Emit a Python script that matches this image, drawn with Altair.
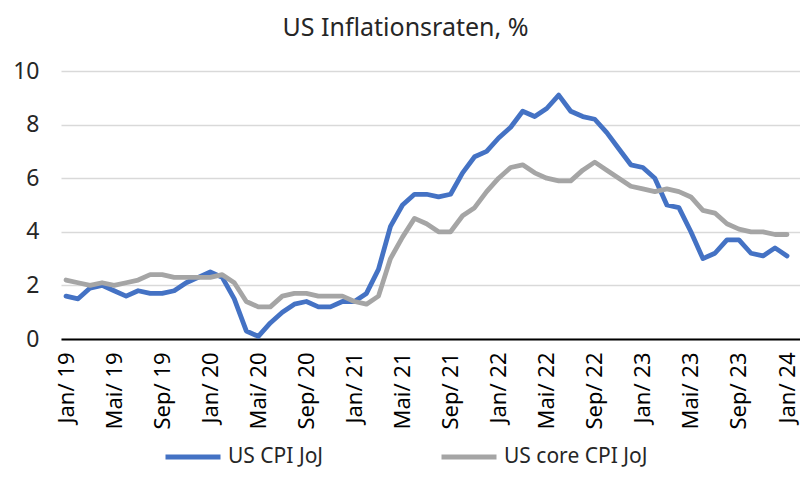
import altair as alt
import pandas as pd

# ---- data -------------------------------------------------------------
month_names = ["Jan", "Feb", "Mär", "Apr", "Mai", "Jun",
               "Jul", "Aug", "Sep", "Okt", "Nov", "Dez"]
years = ["19", "20", "21", "22", "23", "24"]
months = [f"{m}/ {y}" for y in years for m in month_names][:61]

series_names = ["US CPI JoJ", "US core CPI JoJ"]
series_colors = ["#4472C4", "#A5A5A5"]

cpi = [1.6, 1.5, 1.9, 2.0, 1.8, 1.6, 1.8, 1.7, 1.7, 1.8, 2.1, 2.3,
       2.5, 2.3, 1.5, 0.3, 0.1, 0.6, 1.0, 1.3, 1.4, 1.2, 1.2, 1.4,
       1.4, 1.7, 2.6, 4.2, 5.0, 5.4, 5.4, 5.3, 5.4, 6.2, 6.8, 7.0,
       7.5, 7.9, 8.5, 8.3, 8.6, 9.1, 8.5, 8.3, 8.2, 7.7, 7.1, 6.5,
       6.4, 6.0, 5.0, 4.9, 4.0, 3.0, 3.2, 3.7, 3.7, 3.2, 3.1, 3.4,
       3.1]
core = [2.2, 2.1, 2.0, 2.1, 2.0, 2.1, 2.2, 2.4, 2.4, 2.3, 2.3, 2.3,
        2.3, 2.4, 2.1, 1.4, 1.2, 1.2, 1.6, 1.7, 1.7, 1.6, 1.6, 1.6,
        1.4, 1.3, 1.6, 3.0, 3.8, 4.5, 4.3, 4.0, 4.0, 4.6, 4.9, 5.5,
        6.0, 6.4, 6.5, 6.2, 6.0, 5.9, 5.9, 6.3, 6.6, 6.3, 6.0, 5.7,
        5.6, 5.5, 5.6, 5.5, 5.3, 4.8, 4.7, 4.3, 4.1, 4.0, 4.0, 3.9,
        3.9]

x_tick_labels = months[::4]
y_ticks = [0, 2, 4, 6, 8, 10]
title_text = "US Inflationsraten, %"

df = pd.DataFrame({
    "Monat": months * 2,
    "Wert": cpi + core,
    "Serie": [series_names[0]] * len(cpi) + [series_names[1]] * len(core),
    "Reihe": [0] * len(cpi) + [1] * len(core),
})

FONT = "Noto Sans"

chart = (
    alt.Chart(df)
    .mark_line(strokeWidth=4.8, strokeCap="round", strokeJoin="round")
    .encode(
        x=alt.X(
            "Monat:O",
            sort=months,
            scale=alt.Scale(type="point", padding=0.75, align=0.28),
            axis=alt.Axis(
                title=None,
                values=x_tick_labels,
                labelAngle=270,
                labelFont=FONT,
                labelFontSize=22,
                labelColor="#000000",
                labelPadding=13,
                ticks=False,
                domainColor="#000000",
                domainWidth=2,
                grid=False,
            ),
        ),
        y=alt.Y(
            "Wert:Q",
            scale=alt.Scale(domain=[0, 10], nice=False),
            axis=alt.Axis(
                title=None,
                values=y_ticks,
                labelFont=FONT,
                labelFontSize=23,
                labelColor="#262626",
                labelPadding=22,
                ticks=False,
                domain=False,
                gridColor="#D9D9D9",
                gridWidth=1.5,
            ),
        ),
        color=alt.Color(
            "Serie:N",
            scale=alt.Scale(domain=series_names, range=series_colors),
            legend=alt.Legend(
                title=None,
                orient="none",
                direction="horizontal",
                legendX=102,
                legendY=356,
                symbolType="stroke",
                symbolSize=3025,
                symbolStrokeWidth=5,
                labelFont=FONT,
                labelFontSize=21,
                labelColor="#262626",
                labelOffset=5,
                columnPadding=107,
            ),
        ),
        detail="Reihe:N",
    )
    .properties(
        width=739,
        height=268,
        autosize=alt.AutoSizeParams(type="none"),
        padding={"left": 53, "top": 63, "right": 0, "bottom": 132},
        title=alt.TitleParams(
            text=title_text,
            font=FONT,
            fontSize=25,
            fontWeight="normal",
            color="#262626",
            anchor="middle",
            dx=-25,
            offset=19,
        ),
    )
    .configure_view(stroke=None)
)

chart.save("out.html", embed_options={"renderer": "svg", "actions": False})
